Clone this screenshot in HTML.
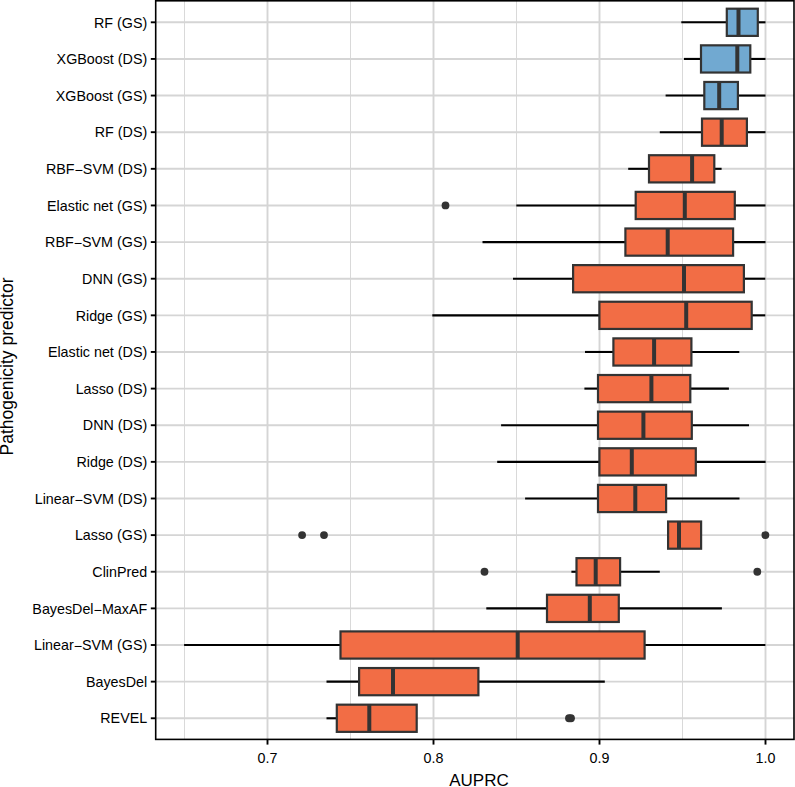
<!DOCTYPE html><html><head><meta charset="utf-8"><style>
html,body{margin:0;padding:0;background:#fff;width:795px;height:787px;overflow:hidden}
svg{display:block;font-family:"Liberation Sans",sans-serif}
</style></head><body>
<svg width="795" height="787" viewBox="0 0 795 787">
<rect x="0" y="0" width="795" height="787" fill="#fff"/>
<line x1="184.50" y1="0.80" x2="184.50" y2="739.40" stroke="#D9D9D9" stroke-width="1.00"/>
<line x1="350.50" y1="0.80" x2="350.50" y2="739.40" stroke="#D9D9D9" stroke-width="1.00"/>
<line x1="516.50" y1="0.80" x2="516.50" y2="739.40" stroke="#D9D9D9" stroke-width="1.00"/>
<line x1="682.50" y1="0.80" x2="682.50" y2="739.40" stroke="#D9D9D9" stroke-width="1.00"/>
<line x1="267.50" y1="0.80" x2="267.50" y2="739.40" stroke="#D5D5D5" stroke-width="1.90"/>
<line x1="433.50" y1="0.80" x2="433.50" y2="739.40" stroke="#D5D5D5" stroke-width="1.90"/>
<line x1="599.50" y1="0.80" x2="599.50" y2="739.40" stroke="#D5D5D5" stroke-width="1.90"/>
<line x1="765.50" y1="0.80" x2="765.50" y2="739.40" stroke="#D5D5D5" stroke-width="1.90"/>
<line x1="155.70" y1="22.30" x2="794.00" y2="22.30" stroke="#D5D5D5" stroke-width="1.90"/>
<line x1="155.70" y1="58.93" x2="794.00" y2="58.93" stroke="#D5D5D5" stroke-width="1.90"/>
<line x1="155.70" y1="95.56" x2="794.00" y2="95.56" stroke="#D5D5D5" stroke-width="1.90"/>
<line x1="155.70" y1="132.19" x2="794.00" y2="132.19" stroke="#D5D5D5" stroke-width="1.90"/>
<line x1="155.70" y1="168.82" x2="794.00" y2="168.82" stroke="#D5D5D5" stroke-width="1.90"/>
<line x1="155.70" y1="205.45" x2="794.00" y2="205.45" stroke="#D5D5D5" stroke-width="1.90"/>
<line x1="155.70" y1="242.08" x2="794.00" y2="242.08" stroke="#D5D5D5" stroke-width="1.90"/>
<line x1="155.70" y1="278.71" x2="794.00" y2="278.71" stroke="#D5D5D5" stroke-width="1.90"/>
<line x1="155.70" y1="315.34" x2="794.00" y2="315.34" stroke="#D5D5D5" stroke-width="1.90"/>
<line x1="155.70" y1="351.97" x2="794.00" y2="351.97" stroke="#D5D5D5" stroke-width="1.90"/>
<line x1="155.70" y1="388.60" x2="794.00" y2="388.60" stroke="#D5D5D5" stroke-width="1.90"/>
<line x1="155.70" y1="425.23" x2="794.00" y2="425.23" stroke="#D5D5D5" stroke-width="1.90"/>
<line x1="155.70" y1="461.86" x2="794.00" y2="461.86" stroke="#D5D5D5" stroke-width="1.90"/>
<line x1="155.70" y1="498.49" x2="794.00" y2="498.49" stroke="#D5D5D5" stroke-width="1.90"/>
<line x1="155.70" y1="535.12" x2="794.00" y2="535.12" stroke="#D5D5D5" stroke-width="1.90"/>
<line x1="155.70" y1="571.75" x2="794.00" y2="571.75" stroke="#D5D5D5" stroke-width="1.90"/>
<line x1="155.70" y1="608.38" x2="794.00" y2="608.38" stroke="#D5D5D5" stroke-width="1.90"/>
<line x1="155.70" y1="645.01" x2="794.00" y2="645.01" stroke="#D5D5D5" stroke-width="1.90"/>
<line x1="155.70" y1="681.64" x2="794.00" y2="681.64" stroke="#D5D5D5" stroke-width="1.90"/>
<line x1="155.70" y1="718.27" x2="794.00" y2="718.27" stroke="#D5D5D5" stroke-width="1.90"/>
<line x1="681.30" y1="22.30" x2="726.80" y2="22.30" stroke="#000" stroke-width="2.10"/>
<line x1="757.80" y1="22.30" x2="765.50" y2="22.30" stroke="#000" stroke-width="2.10"/>
<rect x="726.80" y="8.70" width="31.00" height="27.20" fill="#71A9D1" stroke="#333333" stroke-width="2.20"/>
<line x1="738.50" y1="8.70" x2="738.50" y2="35.90" stroke="#333333" stroke-width="4.00"/>
<line x1="684.00" y1="58.93" x2="701.00" y2="58.93" stroke="#000" stroke-width="2.10"/>
<line x1="750.30" y1="58.93" x2="765.50" y2="58.93" stroke="#000" stroke-width="2.10"/>
<rect x="701.00" y="45.33" width="49.30" height="27.20" fill="#71A9D1" stroke="#333333" stroke-width="2.20"/>
<line x1="737.30" y1="45.33" x2="737.30" y2="72.53" stroke="#333333" stroke-width="4.00"/>
<line x1="665.60" y1="95.56" x2="704.30" y2="95.56" stroke="#000" stroke-width="2.10"/>
<line x1="737.90" y1="95.56" x2="765.50" y2="95.56" stroke="#000" stroke-width="2.10"/>
<rect x="704.30" y="81.96" width="33.60" height="27.20" fill="#71A9D1" stroke="#333333" stroke-width="2.20"/>
<line x1="719.20" y1="81.96" x2="719.20" y2="109.16" stroke="#333333" stroke-width="4.00"/>
<line x1="659.80" y1="132.19" x2="702.00" y2="132.19" stroke="#000" stroke-width="2.10"/>
<line x1="746.90" y1="132.19" x2="765.50" y2="132.19" stroke="#000" stroke-width="2.10"/>
<rect x="702.00" y="118.59" width="44.90" height="27.20" fill="#F26D45" stroke="#333333" stroke-width="2.20"/>
<line x1="721.70" y1="118.59" x2="721.70" y2="145.79" stroke="#333333" stroke-width="4.00"/>
<line x1="628.20" y1="168.82" x2="649.00" y2="168.82" stroke="#000" stroke-width="2.10"/>
<line x1="714.30" y1="168.82" x2="721.60" y2="168.82" stroke="#000" stroke-width="2.10"/>
<rect x="649.00" y="155.22" width="65.30" height="27.20" fill="#F26D45" stroke="#333333" stroke-width="2.20"/>
<line x1="692.10" y1="155.22" x2="692.10" y2="182.42" stroke="#333333" stroke-width="4.00"/>
<line x1="516.30" y1="205.45" x2="635.70" y2="205.45" stroke="#000" stroke-width="2.10"/>
<line x1="734.80" y1="205.45" x2="765.50" y2="205.45" stroke="#000" stroke-width="2.10"/>
<rect x="635.70" y="191.85" width="99.10" height="27.20" fill="#F26D45" stroke="#333333" stroke-width="2.20"/>
<line x1="684.80" y1="191.85" x2="684.80" y2="219.05" stroke="#333333" stroke-width="4.00"/>
<circle cx="445.50" cy="205.45" r="3.90" fill="#333333"/>
<line x1="482.50" y1="242.08" x2="625.40" y2="242.08" stroke="#000" stroke-width="2.10"/>
<line x1="733.10" y1="242.08" x2="765.50" y2="242.08" stroke="#000" stroke-width="2.10"/>
<rect x="625.40" y="228.48" width="107.70" height="27.20" fill="#F26D45" stroke="#333333" stroke-width="2.20"/>
<line x1="667.70" y1="228.48" x2="667.70" y2="255.68" stroke="#333333" stroke-width="4.00"/>
<line x1="513.00" y1="278.71" x2="573.10" y2="278.71" stroke="#000" stroke-width="2.10"/>
<line x1="743.90" y1="278.71" x2="765.30" y2="278.71" stroke="#000" stroke-width="2.10"/>
<rect x="573.10" y="265.11" width="170.80" height="27.20" fill="#F26D45" stroke="#333333" stroke-width="2.20"/>
<line x1="684.00" y1="265.11" x2="684.00" y2="292.31" stroke="#333333" stroke-width="4.00"/>
<line x1="432.30" y1="315.34" x2="599.40" y2="315.34" stroke="#000" stroke-width="2.10"/>
<line x1="751.70" y1="315.34" x2="765.30" y2="315.34" stroke="#000" stroke-width="2.10"/>
<rect x="599.40" y="301.74" width="152.30" height="27.20" fill="#F26D45" stroke="#333333" stroke-width="2.20"/>
<line x1="686.20" y1="301.74" x2="686.20" y2="328.94" stroke="#333333" stroke-width="4.00"/>
<line x1="585.00" y1="351.97" x2="613.40" y2="351.97" stroke="#000" stroke-width="2.10"/>
<line x1="691.40" y1="351.97" x2="739.30" y2="351.97" stroke="#000" stroke-width="2.10"/>
<rect x="613.40" y="338.37" width="78.00" height="27.20" fill="#F26D45" stroke="#333333" stroke-width="2.20"/>
<line x1="654.10" y1="338.37" x2="654.10" y2="365.57" stroke="#333333" stroke-width="4.00"/>
<line x1="584.40" y1="388.60" x2="598.00" y2="388.60" stroke="#000" stroke-width="2.10"/>
<line x1="690.30" y1="388.60" x2="728.90" y2="388.60" stroke="#000" stroke-width="2.10"/>
<rect x="598.00" y="375.00" width="92.30" height="27.20" fill="#F26D45" stroke="#333333" stroke-width="2.20"/>
<line x1="651.40" y1="375.00" x2="651.40" y2="402.20" stroke="#333333" stroke-width="4.00"/>
<line x1="501.10" y1="425.23" x2="598.00" y2="425.23" stroke="#000" stroke-width="2.10"/>
<line x1="691.80" y1="425.23" x2="749.00" y2="425.23" stroke="#000" stroke-width="2.10"/>
<rect x="598.00" y="411.63" width="93.80" height="27.20" fill="#F26D45" stroke="#333333" stroke-width="2.20"/>
<line x1="643.40" y1="411.63" x2="643.40" y2="438.83" stroke="#333333" stroke-width="4.00"/>
<line x1="497.20" y1="461.86" x2="599.40" y2="461.86" stroke="#000" stroke-width="2.10"/>
<line x1="695.80" y1="461.86" x2="765.60" y2="461.86" stroke="#000" stroke-width="2.10"/>
<rect x="599.40" y="448.26" width="96.40" height="27.20" fill="#F26D45" stroke="#333333" stroke-width="2.20"/>
<line x1="631.80" y1="448.26" x2="631.80" y2="475.46" stroke="#333333" stroke-width="4.00"/>
<line x1="525.10" y1="498.49" x2="598.00" y2="498.49" stroke="#000" stroke-width="2.10"/>
<line x1="666.10" y1="498.49" x2="739.50" y2="498.49" stroke="#000" stroke-width="2.10"/>
<rect x="598.00" y="484.89" width="68.10" height="27.20" fill="#F26D45" stroke="#333333" stroke-width="2.20"/>
<line x1="635.30" y1="484.89" x2="635.30" y2="512.09" stroke="#333333" stroke-width="4.00"/>
<rect x="668.10" y="521.52" width="33.00" height="27.20" fill="#F26D45" stroke="#333333" stroke-width="2.20"/>
<line x1="679.00" y1="521.52" x2="679.00" y2="548.72" stroke="#333333" stroke-width="4.00"/>
<circle cx="302.10" cy="535.12" r="3.90" fill="#333333"/>
<circle cx="324.00" cy="535.12" r="3.90" fill="#333333"/>
<circle cx="765.40" cy="535.12" r="3.90" fill="#333333"/>
<line x1="571.40" y1="571.75" x2="576.50" y2="571.75" stroke="#000" stroke-width="2.10"/>
<line x1="620.10" y1="571.75" x2="659.80" y2="571.75" stroke="#000" stroke-width="2.10"/>
<rect x="576.50" y="558.15" width="43.60" height="27.20" fill="#F26D45" stroke="#333333" stroke-width="2.20"/>
<line x1="595.70" y1="558.15" x2="595.70" y2="585.35" stroke="#333333" stroke-width="4.00"/>
<circle cx="484.50" cy="571.75" r="3.90" fill="#333333"/>
<circle cx="757.30" cy="571.75" r="3.90" fill="#333333"/>
<line x1="486.30" y1="608.38" x2="547.00" y2="608.38" stroke="#000" stroke-width="2.10"/>
<line x1="618.80" y1="608.38" x2="721.90" y2="608.38" stroke="#000" stroke-width="2.10"/>
<rect x="547.00" y="594.78" width="71.80" height="27.20" fill="#F26D45" stroke="#333333" stroke-width="2.20"/>
<line x1="589.80" y1="594.78" x2="589.80" y2="621.98" stroke="#333333" stroke-width="4.00"/>
<line x1="184.10" y1="645.01" x2="340.50" y2="645.01" stroke="#000" stroke-width="2.10"/>
<line x1="644.60" y1="645.01" x2="765.40" y2="645.01" stroke="#000" stroke-width="2.10"/>
<rect x="340.50" y="631.41" width="304.10" height="27.20" fill="#F26D45" stroke="#333333" stroke-width="2.20"/>
<line x1="517.70" y1="631.41" x2="517.70" y2="658.61" stroke="#333333" stroke-width="4.00"/>
<line x1="326.50" y1="681.64" x2="359.10" y2="681.64" stroke="#000" stroke-width="2.10"/>
<line x1="478.40" y1="681.64" x2="604.80" y2="681.64" stroke="#000" stroke-width="2.10"/>
<rect x="359.10" y="668.04" width="119.30" height="27.20" fill="#F26D45" stroke="#333333" stroke-width="2.20"/>
<line x1="393.00" y1="668.04" x2="393.00" y2="695.24" stroke="#333333" stroke-width="4.00"/>
<line x1="326.50" y1="718.27" x2="336.80" y2="718.27" stroke="#000" stroke-width="2.10"/>
<rect x="336.80" y="704.67" width="79.90" height="27.20" fill="#F26D45" stroke="#333333" stroke-width="2.20"/>
<line x1="369.30" y1="704.67" x2="369.30" y2="731.87" stroke="#333333" stroke-width="4.00"/>
<circle cx="569.00" cy="718.27" r="3.90" fill="#333333"/>
<circle cx="571.00" cy="718.27" r="3.90" fill="#333333"/>
<rect x="155.70" y="0.80" width="638.30" height="738.60" fill="none" stroke="#000" stroke-width="1.6"/>
<line x1="150.8" y1="22.30" x2="155.70" y2="22.30" stroke="#000" stroke-width="1.9"/>
<text x="147.2" y="27.50" font-size="14.3" text-anchor="end" fill="#000">RF (GS)</text>
<line x1="150.8" y1="58.93" x2="155.70" y2="58.93" stroke="#000" stroke-width="1.9"/>
<text x="147.2" y="64.13" font-size="14.3" text-anchor="end" fill="#000">XGBoost (DS)</text>
<line x1="150.8" y1="95.56" x2="155.70" y2="95.56" stroke="#000" stroke-width="1.9"/>
<text x="147.2" y="100.76" font-size="14.3" text-anchor="end" fill="#000">XGBoost (GS)</text>
<line x1="150.8" y1="132.19" x2="155.70" y2="132.19" stroke="#000" stroke-width="1.9"/>
<text x="147.2" y="137.39" font-size="14.3" text-anchor="end" fill="#000">RF (DS)</text>
<line x1="150.8" y1="168.82" x2="155.70" y2="168.82" stroke="#000" stroke-width="1.9"/>
<text x="147.2" y="174.02" font-size="14.3" text-anchor="end" fill="#000">RBF<tspan dy="1.1">−</tspan><tspan dy="-1.1">SVM (DS)</tspan></text>
<line x1="150.8" y1="205.45" x2="155.70" y2="205.45" stroke="#000" stroke-width="1.9"/>
<text x="147.2" y="210.65" font-size="14.3" text-anchor="end" fill="#000">Elastic net (GS)</text>
<line x1="150.8" y1="242.08" x2="155.70" y2="242.08" stroke="#000" stroke-width="1.9"/>
<text x="147.2" y="247.28" font-size="14.3" text-anchor="end" fill="#000">RBF<tspan dy="1.1">−</tspan><tspan dy="-1.1">SVM (GS)</tspan></text>
<line x1="150.8" y1="278.71" x2="155.70" y2="278.71" stroke="#000" stroke-width="1.9"/>
<text x="147.2" y="283.91" font-size="14.3" text-anchor="end" fill="#000">DNN (GS)</text>
<line x1="150.8" y1="315.34" x2="155.70" y2="315.34" stroke="#000" stroke-width="1.9"/>
<text x="147.2" y="320.54" font-size="14.3" text-anchor="end" fill="#000">Ridge (GS)</text>
<line x1="150.8" y1="351.97" x2="155.70" y2="351.97" stroke="#000" stroke-width="1.9"/>
<text x="147.2" y="357.17" font-size="14.3" text-anchor="end" fill="#000">Elastic net (DS)</text>
<line x1="150.8" y1="388.60" x2="155.70" y2="388.60" stroke="#000" stroke-width="1.9"/>
<text x="147.2" y="393.80" font-size="14.3" text-anchor="end" fill="#000">Lasso (DS)</text>
<line x1="150.8" y1="425.23" x2="155.70" y2="425.23" stroke="#000" stroke-width="1.9"/>
<text x="147.2" y="430.43" font-size="14.3" text-anchor="end" fill="#000">DNN (DS)</text>
<line x1="150.8" y1="461.86" x2="155.70" y2="461.86" stroke="#000" stroke-width="1.9"/>
<text x="147.2" y="467.06" font-size="14.3" text-anchor="end" fill="#000">Ridge (DS)</text>
<line x1="150.8" y1="498.49" x2="155.70" y2="498.49" stroke="#000" stroke-width="1.9"/>
<text x="147.2" y="503.69" font-size="14.3" text-anchor="end" fill="#000">Linear<tspan dy="1.1">−</tspan><tspan dy="-1.1">SVM (DS)</tspan></text>
<line x1="150.8" y1="535.12" x2="155.70" y2="535.12" stroke="#000" stroke-width="1.9"/>
<text x="147.2" y="540.32" font-size="14.3" text-anchor="end" fill="#000">Lasso (GS)</text>
<line x1="150.8" y1="571.75" x2="155.70" y2="571.75" stroke="#000" stroke-width="1.9"/>
<text x="147.2" y="576.95" font-size="14.3" text-anchor="end" fill="#000">ClinPred</text>
<line x1="150.8" y1="608.38" x2="155.70" y2="608.38" stroke="#000" stroke-width="1.9"/>
<text x="147.2" y="613.58" font-size="14.3" text-anchor="end" fill="#000">BayesDel<tspan dy="1.1">−</tspan><tspan dy="-1.1">MaxAF</tspan></text>
<line x1="150.8" y1="645.01" x2="155.70" y2="645.01" stroke="#000" stroke-width="1.9"/>
<text x="147.2" y="650.21" font-size="14.3" text-anchor="end" fill="#000">Linear<tspan dy="1.1">−</tspan><tspan dy="-1.1">SVM (GS)</tspan></text>
<line x1="150.8" y1="681.64" x2="155.70" y2="681.64" stroke="#000" stroke-width="1.9"/>
<text x="147.2" y="686.84" font-size="14.3" text-anchor="end" fill="#000">BayesDel</text>
<line x1="150.8" y1="718.27" x2="155.70" y2="718.27" stroke="#000" stroke-width="1.9"/>
<text x="147.2" y="723.47" font-size="14.3" text-anchor="end" fill="#000">REVEL</text>
<line x1="267.50" y1="739.40" x2="267.50" y2="744.6" stroke="#000" stroke-width="1.9"/>
<text x="267.50" y="762.7" font-size="14.3" text-anchor="middle" fill="#000">0.7</text>
<line x1="433.50" y1="739.40" x2="433.50" y2="744.6" stroke="#000" stroke-width="1.9"/>
<text x="433.50" y="762.7" font-size="14.3" text-anchor="middle" fill="#000">0.8</text>
<line x1="599.50" y1="739.40" x2="599.50" y2="744.6" stroke="#000" stroke-width="1.9"/>
<text x="599.50" y="762.7" font-size="14.3" text-anchor="middle" fill="#000">0.9</text>
<line x1="765.50" y1="739.40" x2="765.50" y2="744.6" stroke="#000" stroke-width="1.9"/>
<text x="765.50" y="762.7" font-size="14.3" text-anchor="middle" fill="#000">1.0</text>
<text x="479" y="786.4" font-size="17" text-anchor="middle" fill="#000">AUPRC</text>
<text x="0" y="0" font-size="17.5" text-anchor="middle" fill="#000" transform="translate(12.9 366.5) rotate(-90)">Pathogenicity predictor</text>
</svg></body></html>
